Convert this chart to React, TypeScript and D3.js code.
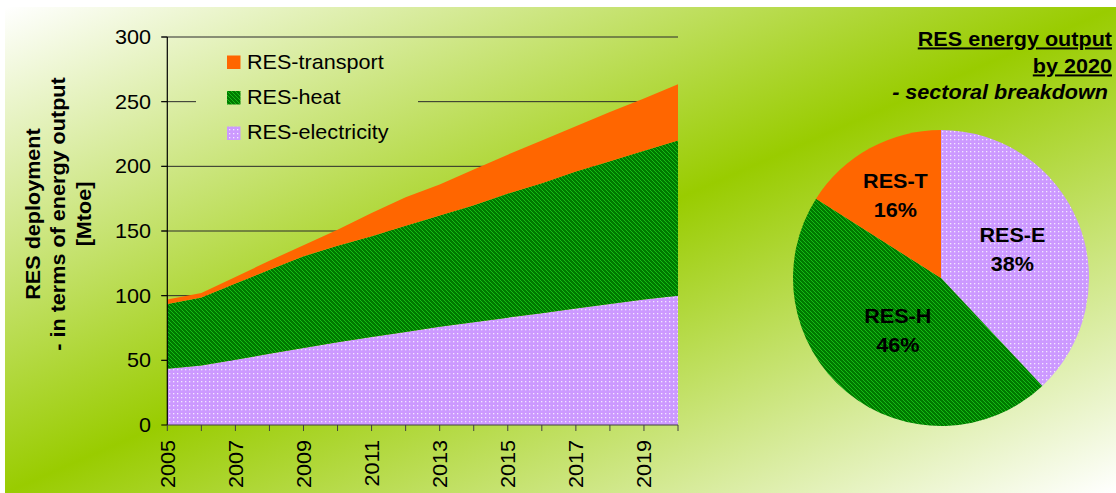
import React from 'react';
import * as d3 from 'd3';

const years = [2005, 2006, 2007, 2008, 2009, 2010, 2011, 2012, 2013, 2014, 2015, 2016, 2017, 2018, 2019, 2020];
const electricity = [43.5, 46, 50.5, 55, 59.5, 64, 68, 72, 76, 79.5, 83, 86.5, 90, 93.5, 97, 100];
const heat = [50, 52.5, 59, 65, 71, 74.5, 78, 82, 86, 90.5, 96, 100.5, 106, 110.5, 115, 120];
const transport = [3.5, 3.5, 5, 7, 8.5, 12.5, 18, 22, 24, 27.5, 30, 33, 35, 38, 40.5, 43.5];
const yTicks = [0, 50, 100, 150, 200, 250, 300];
const xLabelYears = [2005, 2007, 2009, 2011, 2013, 2015, 2017, 2019];
const legendLabels = ['RES-transport', 'RES-heat', 'RES-electricity'];
const pieLabels = ['RES-E', 'RES-H', 'RES-T'];
const pieShares = [38, 46, 16];
const yTitleLines = ['RES deployment', '- in terms of energy output', '[Mtoe]'];
const titleLines = ['RES energy output', 'by 2020', '- sectoral breakdown'];

const W = 1116;
const H = 493;
const FONT = '"Liberation Sans", Arial, Helvetica, sans-serif';
const SX = 1.08;

export default function App() {
  const plot = { left: 167.3, right: 678, top: 37, bottom: 425 };
  const x = d3.scaleLinear().domain([2005, 2020]).range([plot.left, plot.right]);
  const y = d3.scaleLinear().domain([0, 300]).range([plot.bottom, plot.top]);

  const rows = years.map((yr, i) => ({ year: yr, elec: electricity[i], heat: heat[i], transport: transport[i] }));
  const keys = ['elec', 'heat', 'transport'];
  const series = d3.stack<any>().keys(keys)(rows as any);
  const area = d3
    .area<any>()
    .x((d: any) => x(d.data.year))
    .y0((d: any) => y(d[0]))
    .y1((d: any) => y(d[1]));
  const fills: Record<string, string> = { elec: 'url(#pElec)', heat: 'url(#pHeat)', transport: '#ff6600' };
  const legendFills = ['#ff6600', 'url(#pHeat)', 'url(#pElec)'];

  // background gradient in user space (diagonal band from bottom-left to top-right)
  const bx = 5, by = 7, bw = W - bx, bh = H - by;
  const k = 2 / (1 / (bw * bw) + 1 / (bh * bh));
  const gx2 = bx + k / bw;
  const gy2 = by + k / bh;

  // pie
  const cx = 941, cy = 278, R = 148;
  const pieData = d3.pie<number>().sort(null).startAngle(0).endAngle(2 * Math.PI)(pieShares);
  const arc = d3.arc<any>().innerRadius(0).outerRadius(R);
  const pieFills = ['url(#pElec)', 'url(#pHeat)', '#ff6600'];
  // label at the area centroid of each sector
  const labelPos = (d: any) => {
    const theta = d.endAngle - d.startAngle;
    const mid = (d.startAngle + d.endAngle) / 2;
    const dist = (4 * R * Math.sin(theta / 2)) / (3 * theta);
    return [dist * Math.sin(mid), -dist * Math.cos(mid)];
  };

  const legend = { x: 196, y: 44, w: 222, h: 110 };

  return (
    <svg width={W} height={H} style={{ position: 'absolute', left: 0, top: 0 }} fontFamily={FONT}>
      <defs>
        <linearGradient id="bg" gradientUnits="userSpaceOnUse" x1={bx} y1={by} x2={gx2} y2={gy2}>
          <stop offset="0" stopColor="#ffffff" />
          <stop offset="0.5" stopColor="#99cc00" />
          <stop offset="1" stopColor="#ffffff" />
        </linearGradient>
        <pattern id="pHeat" patternUnits="userSpaceOnUse" width="4" height="4">
          <rect width="4" height="4" fill="#007a00" />
          <path d="M0,0 L4,4 M-1,3 L1,5 M3,-1 L5,1" stroke="#16bb16" strokeWidth="1" />
        </pattern>
        <pattern id="pElec" patternUnits="userSpaceOnUse" width="4" height="4">
          <rect width="4" height="4" fill="#cc99ff" />
          <rect x="1" y="1" width="1.3" height="1.3" fill="#f4e8ff" />
        </pattern>
      </defs>

      <rect x={bx} y={by} width={bw} height={bh} fill="url(#bg)" />

      {/* gridlines */}
      {yTicks.filter((t) => t > 0).map((t) => (
        <line key={'g' + t} x1={plot.left - 6} x2={plot.right} y1={y(t)} y2={y(t)} stroke="#2a2a2a" strokeWidth={1} />
      ))}

      {/* legend background hides gridlines */}
      <rect x={legend.x} y={legend.y} width={legend.w} height={legend.h} fill="url(#bg)" />
      {legendLabels.map((lab, i) => (
        <g key={lab}>
          <rect x={227} y={55.5 + 35.5 * i} width={13.5} height={13.5} fill={legendFills[i]} />
          <text transform={`translate(247,${68.5 + 35.4 * i}) scale(${SX},1)`} fontSize={20} fill="#000">
            {lab}
          </text>
        </g>
      ))}

      {/* areas */}
      {series.map((s: any) => (
        <path key={s.key} d={area(s) as string} fill={fills[s.key]} />
      ))}

      {/* y axis */}
      <line x1={plot.left} x2={plot.left} y1={plot.top} y2={plot.bottom} stroke="#000" strokeWidth={1.2} />
      {yTicks.map((t) => (
        <g key={'y' + t}>
          <line x1={plot.left - 6} x2={plot.left} y1={y(t)} y2={y(t)} stroke="#000" />
          <text
            transform={`translate(151,${y(t) + 7}) scale(${SX},1)`}
            textAnchor="end"
            fontSize={20}
            fill="#000"
          >
            {t}
          </text>
        </g>
      ))}

      {/* x axis */}
      <line x1={plot.left} x2={plot.right} y1={plot.bottom} y2={plot.bottom} stroke="#404040" strokeWidth={1.2} />
      {years.map((yr) => (
        <line key={'xt' + yr} x1={x(yr)} x2={x(yr)} y1={plot.bottom} y2={plot.bottom + 6} stroke="#404040" />
      ))}
      {xLabelYears.map((yr) => (
        <text
          key={'xl' + yr}
          transform={`translate(${x(yr) + 7.2},440) rotate(-90) scale(${SX},1)`}
          textAnchor="end"
          fontSize={20}
          fill="#000"
        >
          {yr}
        </text>
      ))}

      {/* y title */}
      {yTitleLines.map((line, i) => (
        <text
          key={line}
          transform={`translate(${39.6 + 25.5 * i},214) rotate(-90) scale(${SX},1)`}
          textAnchor="middle"
          fontSize={20}
          fontWeight="bold"
          fill="#000"
        >
          {line}
        </text>
      ))}

      {/* pie */}
      <g transform={`translate(${cx},${cy})`}>
        {pieData.map((d, i) => (
          <path key={'s' + i} d={arc(d) as string} fill={pieFills[i]} />
        ))}
        {pieData.map((d, i) => {
          const [lx, ly] = labelPos(d);
          return (
            <g key={'l' + i}>
              <text
                transform={`translate(${lx},${ly - 7.5}) scale(${SX},1)`}
                textAnchor="middle"
                fontSize={20}
                fontWeight="bold"
                fill="#000"
              >
                {pieLabels[i]}
              </text>
              <text
                transform={`translate(${lx},${ly + 21.5}) scale(${SX},1)`}
                textAnchor="middle"
                fontSize={20}
                fontWeight="bold"
                fill="#000"
              >
                {pieShares[i] + '%'}
              </text>
            </g>
          );
        })}
      </g>

      {/* pie title */}
      <text
        transform={`translate(1112,45.5) scale(${SX},1)`}
        textAnchor="end"
        fontSize={20}
        fontWeight="bold"
        style={{ textDecoration: 'underline' }}
      >
        {titleLines[0]}
      </text>
      <text
        transform={`translate(1112,72.5) scale(${SX},1)`}
        textAnchor="end"
        fontSize={20}
        fontWeight="bold"
        style={{ textDecoration: 'underline' }}
      >
        {titleLines[1]}
      </text>
      <text
        transform={`translate(1108,99) scale(${SX},1)`}
        textAnchor="end"
        fontSize={20}
        fontWeight="bold"
        fontStyle="italic"
      >
        {titleLines[2]}
      </text>
    </svg>
  );
}
